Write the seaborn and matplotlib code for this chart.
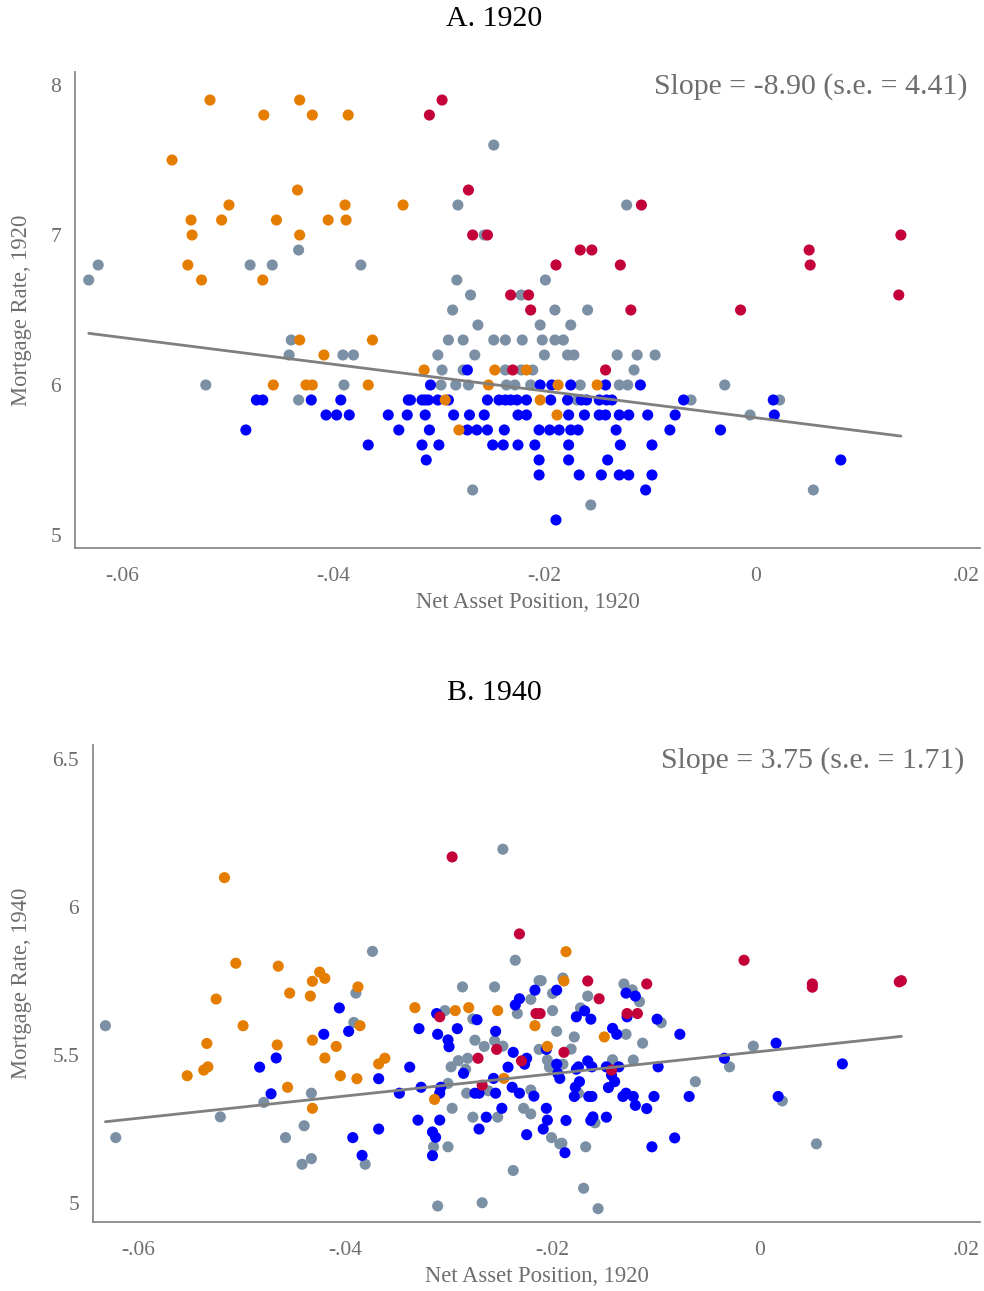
import numpy as np
import pandas as pd
import matplotlib
matplotlib.use("Agg")
import matplotlib.pyplot as plt
import seaborn as sns

# ---------------- Panel A (1920) ----------------
a_orange_x = [-0.0517, -0.0432, -0.0466, -0.0420, -0.0386, -0.0553, -0.0434, -0.0499, -0.0389,
              -0.0535, -0.0506, -0.0454, -0.0405, -0.0388, -0.0534, -0.0432, -0.0538, -0.0525,
              -0.0467, -0.0432, -0.0363, -0.0409, -0.0457, -0.0426, -0.0420, -0.0367,
              -0.0334, -0.0314, -0.0247, -0.0217, -0.0253, -0.0187, -0.0294, -0.0204, -0.0188,
              -0.0281, -0.0150]
a_orange_y = [7.9, 7.9, 7.8, 7.8, 7.8, 7.5, 7.3, 7.2, 7.2, 7.1, 7.1, 7.1, 7.1, 7.1, 7.0, 7.0,
              6.8, 6.7, 6.7, 6.3, 6.3, 6.2, 6.0, 6.0, 6.0, 6.0,
              7.2, 6.1, 6.1, 6.1, 6.0, 6.0, 5.9, 5.9, 5.8, 5.7, 6.0]

a_red_x = [-0.0297, -0.0309, -0.0272, -0.0268, -0.0254, -0.0189, -0.0232, -0.0215, -0.0213, -0.0230,
           -0.0108, -0.0166, -0.0155, -0.0128, -0.0118, -0.0014, -0.0142,
           0.0138, 0.0051, 0.0052, 0.0136]
a_red_y = [7.9, 7.8, 7.3, 7.0, 7.0, 6.8, 6.6, 6.6, 6.5, 6.1,
           7.2, 6.9, 6.9, 6.8, 6.5, 6.5, 6.1,
           7.0, 6.9, 6.8, 6.6]

a_gray_x = [-0.0623, -0.0632, -0.0479, -0.0458, -0.0433, -0.0374, -0.0440, -0.0442, -0.0391,
            -0.0381, -0.0521, -0.0433, -0.0390,
            -0.0248, -0.0282, -0.0257, -0.0283, -0.0199, -0.0270, -0.0222, -0.0287, -0.0190,
            -0.0263, -0.0204,
            -0.0291, -0.0277, -0.0248, -0.0237, -0.0221, -0.0202, -0.0190,
            -0.0301, -0.0266, -0.0200,
            -0.0297, -0.0277, -0.0237, -0.0222, -0.0211,
            -0.0298, -0.0284, -0.0272, -0.0236, -0.0228, -0.0213,
            -0.0268,
            -0.0122, -0.0159, -0.0175, -0.0182, -0.0178, -0.0172, -0.0131, -0.0112, -0.0095,
            -0.0115, -0.0166, -0.0129, -0.0121, -0.0029, -0.0169, -0.0061, -0.0156,
            0.0023, -0.0005, 0.0055]
a_gray_y = [6.8, 6.7, 6.8, 6.8, 6.9, 6.8, 6.3, 6.2, 6.2, 6.2, 6.0, 5.9, 6.0,
            7.6, 7.2, 7.0, 6.7, 6.7, 6.6, 6.6, 6.5, 6.5, 6.4, 6.4,
            6.3, 6.3, 6.3, 6.3, 6.3, 6.3, 6.3,
            6.2, 6.2, 6.2,
            6.1, 6.1, 6.1, 6.1, 6.1,
            6.0, 6.0, 6.0, 6.0, 6.0, 6.0,
            5.3,
            7.2, 6.5, 6.4, 6.3, 6.2, 6.2, 6.2, 6.2, 6.2,
            6.1, 6.0, 6.0, 6.0, 6.0, 5.9, 5.9, 5.2,
            5.9, 5.8, 5.3]

a_blue_x = [-0.0473, -0.0467, -0.0421, -0.0393, -0.0407, -0.0397, -0.0385, -0.0483, -0.0367,
            -0.0273,
            -0.0308, -0.0204, -0.0193,
            -0.0329, -0.0327, -0.0316, -0.0313, -0.0310, -0.0301, -0.0291, -0.0254, -0.0243,
            -0.0237, -0.0232, -0.0226, -0.0217, -0.0194,
            -0.0348, -0.0330, -0.0313, -0.0286, -0.0271, -0.0257, -0.0225, -0.0217,
            -0.0338, -0.0309, -0.0273, -0.0264, -0.0254, -0.0238, -0.0205, -0.0195, -0.0186,
            -0.0316, -0.0300, -0.0249, -0.0239, -0.0225, -0.0209,
            -0.0312, -0.0205, -0.0205, -0.0189,
            -0.0175, -0.0142, -0.0109,
            -0.0178, -0.0165, -0.0160, -0.0148, -0.0141, -0.0136, -0.0068,
            -0.0177, -0.0162, -0.0148, -0.0142, -0.0129, -0.0120, -0.0102, -0.0076,
            -0.0175, -0.0168, -0.0132, -0.0081, -0.0033,
            -0.0177, -0.0128, -0.0098,
            -0.0177, -0.0140,
            -0.0167, -0.0146, -0.0129, -0.0120, -0.0098,
            -0.0104,
            0.0017, 0.0018, 0.0081]
a_blue_y = [5.9, 5.9, 5.9, 5.9, 5.8, 5.8, 5.8, 5.7, 5.6,
            6.1,
            6.0, 6.0, 6.0,
            5.9, 5.9, 5.9, 5.9, 5.9, 5.9, 5.9, 5.9, 5.9, 5.9, 5.9, 5.9, 5.9, 5.9,
            5.8, 5.8, 5.8, 5.8, 5.8, 5.8, 5.8, 5.8,
            5.7, 5.7, 5.7, 5.7, 5.7, 5.7, 5.7, 5.7, 5.7,
            5.6, 5.6, 5.6, 5.6, 5.6, 5.6,
            5.5, 5.5, 5.4, 5.1,
            6.0, 6.0, 6.0,
            5.9, 5.9, 5.9, 5.9, 5.9, 5.9, 5.9,
            5.8, 5.8, 5.8, 5.8, 5.8, 5.8, 5.8, 5.8,
            5.7, 5.7, 5.7, 5.7, 5.7,
            5.6, 5.6, 5.6,
            5.5, 5.5,
            5.4, 5.4, 5.4, 5.4, 5.4,
            5.3,
            5.9, 5.8, 5.5]

# ---------------- Panel B (1940) ----------------
b_orange_x = [-0.0517, -0.0506, -0.0465, -0.0425, -0.0420, -0.0432, -0.0388, -0.0454, -0.0434,
              -0.0525, -0.0499, -0.0386, -0.0534, -0.0466, -0.0432, -0.0409, -0.0420, -0.0537,
              -0.0533, -0.0553, -0.0405, -0.0389, -0.0368, -0.0362, -0.0456, -0.0432,
              -0.0333, -0.0294, -0.0281, -0.0253, -0.0217, -0.0205, -0.0314, -0.0247,
              -0.0187, -0.0189, -0.0150]
b_orange_y = [6.100, 5.811, 5.801, 5.781, 5.760, 5.750, 5.731, 5.710, 5.700,
              5.690, 5.600, 5.600, 5.540, 5.535, 5.551, 5.530, 5.491, 5.450,
              5.461, 5.431, 5.431, 5.421, 5.471, 5.490, 5.392, 5.321,
              5.661, 5.651, 5.661, 5.651, 5.600, 5.530, 5.351, 5.422,
              5.850, 5.751, 5.562]

b_red_x = [-0.0297, -0.0232, -0.0309, -0.0216, -0.0212, -0.0254, -0.0272, -0.0230, -0.0268,
           -0.0166, -0.0155, -0.0109, -0.0128, -0.0118, -0.0189, -0.0143,
           -0.0015, 0.0051, 0.0051, 0.0137, 0.0135]
b_red_y = [6.170, 5.910, 5.630, 5.641, 5.641, 5.520, 5.490, 5.481, 5.399,
           5.751, 5.691, 5.741, 5.641, 5.641, 5.510, 5.450,
           5.821, 5.741, 5.730, 5.752, 5.748]

b_gray_x = [-0.0632, -0.0622, -0.0521, -0.0479, -0.0433, -0.0440, -0.0458, -0.0442, -0.0433,
            -0.0381, -0.0374, -0.0390, -0.0392,
            -0.0248, -0.0236, -0.0287, -0.0256, -0.0213, -0.0211, -0.0200, -0.0221, -0.0234,
            -0.0304, -0.0277, -0.0200, -0.0196, -0.0275, -0.0266, -0.0256, -0.0248, -0.0213,
            -0.0291, -0.0282, -0.0298, -0.0284, -0.0205, -0.0203, -0.0301, -0.0283, -0.0262,
            -0.0221, -0.0297, -0.0315, -0.0301, -0.0277, -0.0253, -0.0228, -0.0221, -0.0201,
            -0.0193, -0.0238, -0.0311, -0.0268,
            -0.0190, -0.0166, -0.0131, -0.0123, -0.0116, -0.0173, -0.0095, -0.0179, -0.0129,
            -0.0113, -0.0182, -0.0142, -0.0122, -0.0190, -0.0029, -0.0062, -0.0175, -0.0159,
            -0.0191, -0.0168, -0.0170, -0.0156,
            -0.0006, 0.0022, 0.0055]
b_gray_y = [5.600, 5.222, 5.292, 5.341, 5.372, 5.262, 5.222, 5.132, 5.151,
            5.132, 5.851, 5.710, 5.611,
            6.196, 5.821, 5.731, 5.731, 5.752, 5.752, 5.709, 5.689, 5.641,
            5.651, 5.623, 5.651, 5.581, 5.551, 5.530, 5.549, 5.531, 5.520,
            5.482, 5.490, 5.461, 5.453, 5.484, 5.460, 5.405, 5.372, 5.380,
            5.383, 5.321, 5.191, 5.191, 5.291, 5.291, 5.321, 5.302, 5.222,
            5.201, 5.111, 4.991, 5.002,
            5.761, 5.700, 5.741, 5.721, 5.681, 5.660, 5.610, 5.562, 5.571,
            5.541, 5.521, 5.485, 5.484, 5.470, 5.461, 5.411, 5.372, 5.272,
            5.203, 5.191, 5.051, 4.982,
            5.531, 5.346, 5.201]

b_blue_x = [-0.0406, -0.0421, -0.0397, -0.0467, -0.0483, -0.0472, -0.0393, -0.0384, -0.0368, -0.0368,
            -0.0217, -0.0196, -0.0232, -0.0236, -0.0312, -0.0273, -0.0329, -0.0311, -0.0292,
            -0.0301, -0.0300, -0.0255, -0.0206, -0.0238, -0.0225, -0.0227, -0.0286, -0.0243,
            -0.0196, -0.0338, -0.0348, -0.0327, -0.0308, -0.0309, -0.0275, -0.0271, -0.0257,
            -0.0255, -0.0239, -0.0232, -0.0218, -0.0195, -0.0193, -0.0330, -0.0309, -0.0316,
            -0.0313, -0.0316, -0.0264, -0.0271, -0.0249, -0.0225, -0.0206, -0.0205, -0.0209,
            -0.0129, -0.0120, -0.0169, -0.0177, -0.0163, -0.0128, -0.0099, -0.0077, -0.0142,
            -0.0138, -0.0177, -0.0175, -0.0166, -0.0162, -0.0148, -0.0136, -0.0143, -0.0140,
            -0.0146, -0.0098, -0.0034, -0.0174, -0.0178, -0.0179, -0.0165, -0.0162, -0.0132,
            -0.0129, -0.0122, -0.0120, -0.0109, -0.0102, -0.0068, -0.0187, -0.0163, -0.0161,
            -0.0148, -0.0188, -0.0104, -0.0082,
            0.0016, 0.0080, 0.0018]
b_blue_y = [5.660, 5.571, 5.581, 5.491, 5.460, 5.370, 5.222, 5.162, 5.421, 5.251,
            5.720, 5.720, 5.691, 5.670, 5.641, 5.620, 5.590, 5.571, 5.590,
            5.552, 5.529, 5.581, 5.520, 5.510, 5.490, 5.470, 5.439, 5.460,
            5.470, 5.460, 5.372, 5.392, 5.392, 5.372, 5.372, 5.372, 5.422,
            5.372, 5.392, 5.372, 5.362, 5.439, 5.422, 5.281, 5.281, 5.241,
            5.223, 5.161, 5.291, 5.251, 5.321, 5.232, 5.321, 5.281, 5.251,
            5.710, 5.700, 5.650, 5.630, 5.622, 5.630, 5.622, 5.571, 5.591,
            5.571, 5.453, 5.461, 5.481, 5.461, 5.461, 5.461, 5.433, 5.411,
            5.391, 5.461, 5.490, 5.411, 5.392, 5.361, 5.361, 5.361, 5.361,
            5.372, 5.361, 5.331, 5.320, 5.361, 5.361, 5.280, 5.280, 5.292,
            5.291, 5.171, 5.191, 5.221,
            5.541, 5.471, 5.361]

# fitted lines (slope as reported, intercept)
a_slope, a_intercept = -8.90, 5.782
b_slope, b_intercept = 3.75, 5.5126

x_ticks = [-0.06, -0.04, -0.02, 0.0, 0.02]
x_ticklabels = ["-.06", "-.04", "-.02", "0", ".02"]
a_yticks = [5, 6, 7, 8]
a_yticklabels = ["5", "6", "7", "8"]
b_yticks = [5.0, 5.5, 6.0, 6.5]
b_yticklabels = ["5", "5.5", "6", "6.5"]

groups = ["gray", "blue", "orange", "red"]
palette = {"gray": "#7B90A5", "blue": "#0000FF", "orange": "#E47D00", "red": "#C3003A"}


def make_df(gx, gy, bx, by, ox, oy, rx, ry):
    parts = []
    for g, xs, ys in zip(groups, [gx, bx, ox, rx], [gy, by, oy, ry]):
        parts.append(pd.DataFrame({"x": xs, "y": ys, "g": g}))
    return pd.concat(parts, ignore_index=True)


dfA = make_df(a_gray_x, a_gray_y, a_blue_x, a_blue_y, a_orange_x, a_orange_y, a_red_x, a_red_y)
dfB = make_df(b_gray_x, b_gray_y, b_blue_x, b_blue_y, b_orange_x, b_orange_y, b_red_x, b_red_y)

sns.set_style("white")
plt.rcParams["font.family"] = ["Liberation Serif", "DejaVu Serif"]

TXT = "#6e6e6e"
SPN = "#8a8a8a"

W, H = 984, 1291
fig = plt.figure(figsize=(W / 100, H / 100), dpi=100)


def px_axes(l, t, r, b):
    return fig.add_axes([l / W, 1 - b / H, (r - l) / W, (b - t) / H])


def style(ax, xlim, ylim, yticks, yticklabels, ylabel, ylab_x, xlab_y):
    ax.set_xlim(*xlim)
    ax.set_ylim(*ylim)
    ax.set_xticks(x_ticks)
    ax.set_xticklabels(x_ticklabels)
    ax.set_yticks(yticks)
    ax.set_yticklabels(yticklabels)
    for s in ["top", "right"]:
        ax.spines[s].set_visible(False)
    for s in ["left", "bottom"]:
        ax.spines[s].set_color(SPN)
        ax.spines[s].set_linewidth(1.3)
    ax.tick_params(axis="both", direction="out", length=6, width=1.1, color=SPN,
                   labelcolor=TXT, labelsize=15.5, pad=4)
    ax.tick_params(axis="x", pad=8)
    ax.set_xlabel("Net Asset Position, 1920", fontsize=16.3, color=TXT)
    ax.set_ylabel(ylabel, fontsize=16.3, color=TXT)
    ax.xaxis.label.set_va("center")
    ax.xaxis.set_label_coords(0.5, xlab_y)
    ax.yaxis.set_label_coords(ylab_x, 0.5)


def fit_line(ax, df, slope, intercept):
    xs = np.array([df["x"].min(), df["x"].max()])
    line = pd.DataFrame({"x": xs, "y": intercept + slope * xs})
    sns.lineplot(data=line, x="x", y="y", ax=ax, color="#7f7f7f", linewidth=2.0, zorder=3)


# Panel A
axA = px_axes(75, 72, 980, 548)
sns.scatterplot(data=dfA, x="x", y="y", hue="g", palette=palette, ax=axA,
                s=64, linewidth=0, edgecolor="none", legend=False, zorder=2)
fit_line(axA, dfA, a_slope, a_intercept)
style(axA, (-0.0645, 0.0213), (4.913, 8.087), a_yticks, a_yticklabels,
      "Mortgage Rate, 1920", (32 - 75) / 905, -(603 - 548) / 476)

# Panel B
axB = px_axes(93, 745, 980, 1222)
sns.scatterplot(data=dfB, x="x", y="y", hue="g", palette=palette, ax=axB,
                s=64, linewidth=0, edgecolor="none", legend=False, zorder=2)
fit_line(axB, dfB, b_slope, b_intercept)
style(axB, (-0.0644, 0.0213), (4.937, 6.548), b_yticks, b_yticklabels,
      "Mortgage Rate, 1940", (32 - 93) / 887, -(1277 - 1222) / 477)

fig.text(494 / W, 1 - 19 / H, "A. 1920", ha="center", va="center", fontsize=21.5, color="black")
fig.text(494 / W, 1 - 693 / H, "B. 1940", ha="center", va="center", fontsize=21.5, color="black")
fig.text(968 / W, 1 - 87 / H, "Slope = -8.90 (s.e. = 4.41)", ha="right", va="center",
         fontsize=21.5, color=TXT)
fig.text(964 / W, 1 - 761 / H, "Slope = 3.75 (s.e. = 1.71)", ha="right", va="center",
         fontsize=21.5, color=TXT)

fig.savefig("out.png", dpi=100)
